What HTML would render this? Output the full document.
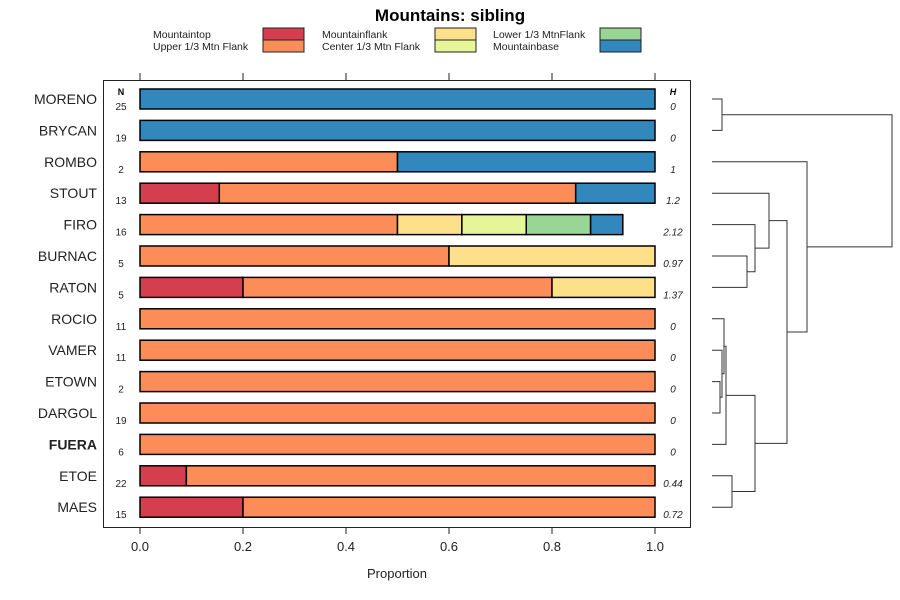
<!DOCTYPE html>
<html><head><meta charset="utf-8"><style>
html,body{margin:0;padding:0;background:#fff;}
svg{display:block;font-family:"Liberation Sans",sans-serif;}
</style></head><body>
<svg id="chart" width="900" height="600"></svg>
<script>
const categories=["MORENO","BRYCAN","ROMBO","STOUT","FIRO","BURNAC","RATON","ROCIO","VAMER","ETOWN","DARGOL","FUERA","ETOE","MAES"];
const nValues=[25,19,2,13,16,5,5,11,11,2,19,6,22,15];
const hValues=["0","0","1","1.2","2.12","0.97","1.37","0","0","0","0","0","0.44","0.72"];
const seriesNames=["Mountaintop","Upper 1/3 Mtn Flank","Mountainflank","Center 1/3 Mtn Flank","Lower 1/3 MtnFlank","Mountainbase"];
const seriesColors=["#D53E4F","#FC8D59","#FEE08B","#E6F598","#99D594","#3288BD"];
const sMountaintop=[0,0,0,0.154,0,0,0.2,0,0,0,0,0,0.09,0.2];
const sUpper=[0,0,0.5,0.692,0.5,0.6,0.6,1,1,1,1,1,0.91,0.8];
const sFlank=[0,0,0,0,0.125,0.4,0.2,0,0,0,0,0,0,0];
const sCenter=[0,0,0,0,0.125,0,0,0,0,0,0,0,0,0];
const sLower=[0,0,0,0,0.125,0,0,0,0,0,0,0,0,0];
const sBase=[1,1,0.5,0.154,0.0625,0,0,0,0,0,0,0,0,0];
const xTicks=[0,0.2,0.4,0.6,0.8,1.0];
const xTickLabels=["0.0","0.2","0.4","0.6","0.8","1.0"];

const NS="http://www.w3.org/2000/svg";
const svg=document.getElementById('chart');
function mk(tag,attrs,parent,text){const e=document.createElementNS(NS,tag);for(const k in attrs)e.setAttribute(k,attrs[k]);if(text!==undefined)e.textContent=text;(parent||svg).appendChild(e);return e;}
const x0=140,x1=655,rowTop=99,rowStep=31.4,barH=20;
const xs=v=>x0+v*(x1-x0);
const ys=i=>rowTop+i*rowStep;

let t=mk('text',{x:450,y:21,'text-anchor':'middle','font-size':17,'font-weight':'bold'},svg,'Mountains: sibling');


// legend
const legCols=[[153,263],[322,435],[493,600]];
seriesNames.forEach((n,k)=>{
  const c=legCols[Math.floor(k/2)],r=k%2;
  const g=mk('g',{});
  
  
  mk('text',{x:c[0],y:38+r*12,'font-size':10.5,fill:'#222'},g,n);
  mk('rect',{x:c[1],y:28+r*12,width:41,height:12,fill:seriesColors[k],stroke:'#222','stroke-width':1},g);
});

// plot box
let box=mk('rect',{x:103.5,y:80.5,width:587,height:447,fill:'none',stroke:'#222','stroke-width':1});


xTicks.forEach((v,i)=>{
  mk('line',{x1:xs(v),x2:xs(v),y1:73,y2:80,stroke:'#222'});
  mk('line',{x1:xs(v),x2:xs(v),y1:527,y2:534,stroke:'#222'});
  const tl=mk('text',{x:xs(v),y:551,'text-anchor':'middle','font-size':13,fill:'#222'},svg,xTickLabels[i]);
  
});
let xt=mk('text',{x:397,y:578,'text-anchor':'middle','font-size':13,fill:'#222'},svg,'Proportion');


let nh=mk('text',{x:121,y:95,'text-anchor':'middle','font-size':9,'font-weight':'bold'},svg,'N');

let hh=mk('text',{x:673,y:95,'text-anchor':'middle','font-size':9,'font-weight':'bold','font-style':'italic'},svg,'H');


const series=[sMountaintop,sUpper,sFlank,sCenter,sLower,sBase];
categories.forEach((c,i)=>{
  const y=ys(i);
  const lab=mk('text',{x:97,y:y+5,'text-anchor':'end','font-size':14,fill:'#222','font-weight':c==='FUERA'?'bold':'normal'},svg,c);
  
  const nt=mk('text',{x:121,y:y+11,'text-anchor':'middle','font-size':10,fill:'#222'},svg,String(nValues[i]));
  
  const ht=mk('text',{x:673,y:y+11,'text-anchor':'middle','font-size':10,'font-style':'italic',fill:'#222'},svg,hValues[i]);
  
  let cum=0;
  series.forEach((s,k)=>{
    const v=s[i];if(v<=0)return;
    const r=mk('rect',{x:xs(cum),y:y-barH/2,width:xs(cum+v)-xs(cum),height:barH,fill:seriesColors[k],stroke:'#000','stroke-width':1.5});
    
    
    cum+=v;
  });
});

// dendrogram
const dg=mk('g',{stroke:'#333','stroke-width':1,fill:'none'});

const L=712;
function pl(pts){mk('polyline',{points:pts.map(p=>p.join(',')).join(' ')},dg);}
function join(ya,xa,yb,xb,xm){pl([[xa,ya],[xm,ya],[xm,yb],[xb,yb]]);return (ya+yb)/2;}
const Y=i=>ys(i);
let m1=join(Y(0),L,Y(1),L,722);
let a=join(Y(5),L,Y(6),L,747);
let b=join(Y(4),L,a,747,755);
let cS=join(Y(3),L,b,755,769);
let e1=join(Y(9),L,Y(10),L,720);
let e2=join(Y(8),L,e1,720,722);
let e3=join(Y(7),L,e2,722,724);
let e4=join(e3,724,Y(11),L,726);
let f=join(Y(12),L,Y(13),L,732);
let g2=join(e4,726,f,732,755);
let h=join(cS,769,g2,755,787);
let r=join(Y(2),L,h,787,807);
join(m1,722,r,807,892);
</script>
</body></html>
